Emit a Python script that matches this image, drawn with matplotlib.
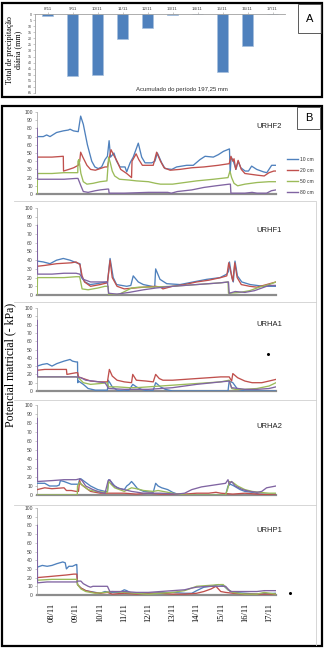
import matplotlib
matplotlib.use("Agg")
import matplotlib.pyplot as plt
from matplotlib.lines import Line2D
from matplotlib.patches import Rectangle

# ---------------- DATA ----------------
rain_days = ["8/11", "9/11", "10/11", "11/11", "12/11", "13/11", "14/11", "15/11", "16/11", "17/11"]
rain_mm = [1.5, 51.0, 50.5, 20.5, 11.5, 0.5, 0.0, 48.0, 26.0, 0.0]
rain_total_text = "Acumulado do período 197,25 mm"

date_labels = ["08/11", "09/11", "10/11", "11/11", "12/11", "13/11", "14/11", "15/11", "16/11", "17/11"]
depths = ["10 cm", "20 cm", "50 cm", "80 cm"]
panel_names = ["URHF2", "URHF1", "URHA1", "URHA2", "URHP1"]

# time in days after 08/11 00h (approx), value in -kPa
URHF2_10 = [(-0.61, 70), (-0.36, 70), (-0.22, 72), (-0.08, 70), (0.19, 75), (0.47, 77), (0.68, 78), (0.75, 79),
            (0.89, 77), (1.09, 76), (1.19, 95), (1.30, 85), (1.47, 60), (1.65, 40), (1.78, 33), (1.92, 31),
            (2.06, 33), (2.20, 42), (2.30, 46), (2.37, 65), (2.43, 45), (2.57, 50), (2.68, 40), (2.82, 33),
            (3.03, 33), (3.10, 27), (3.24, 38), (3.37, 45), (3.58, 62), (3.72, 45), (3.86, 38), (4.14, 38),
            (4.27, 40), (4.37, 50), (4.55, 38), (4.69, 31), (4.97, 30), (5.17, 33), (5.59, 35), (5.86, 35),
            (6.14, 42), (6.35, 46), (6.69, 45), (6.90, 48), (7.11, 52), (7.36, 55), (7.39, 25), (7.43, 45),
            (7.52, 40), (7.63, 30), (7.72, 40), (7.83, 32), (8.01, 28), (8.15, 28), (8.28, 34), (8.49, 30),
            (8.77, 27), (8.91, 26), (9.11, 35), (9.29, 35)]
URHF2_20 = [(-0.61, 45), (0.0, 45), (0.47, 46), (0.48, 28), (0.70, 30), (0.90, 32), (1.09, 35), (1.15, 40),
            (1.19, 51), (1.28, 45), (1.45, 35), (1.60, 30), (1.80, 29), (2.00, 31), (2.20, 33), (2.30, 33),
            (2.45, 54), (2.55, 48), (2.70, 40), (2.85, 30), (3.10, 25), (3.30, 20), (3.32, 40), (3.49, 49),
            (3.60, 42), (3.75, 35), (4.20, 35), (4.34, 51), (4.50, 40), (4.65, 32), (4.90, 29), (5.30, 30),
            (5.80, 32), (6.30, 33), (6.90, 35), (7.35, 37), (7.42, 46), (7.50, 40), (7.55, 43), (7.62, 30),
            (7.72, 41), (7.85, 30), (8.00, 25), (8.50, 23), (8.80, 22), (9.00, 26), (9.20, 28), (9.29, 28)]
URHF2_50 = [(-0.61, 0), (-0.60, 25), (0.0, 25), (0.5, 26), (1.07, 26), (1.08, 40), (1.12, 42), (1.20, 25),
            (1.30, 15), (1.45, 12), (1.70, 13), (2.00, 15), (2.28, 16), (2.35, 45), (2.42, 38), (2.50, 28),
            (2.60, 22), (2.80, 18), (3.20, 17), (3.50, 16), (4.00, 15), (4.30, 13), (4.50, 12), (5.00, 12),
            (5.50, 14), (6.00, 16), (6.70, 18), (7.30, 20), (7.38, 28), (7.45, 20), (7.55, 13), (7.70, 10),
            (8.00, 12), (8.50, 14), (9.00, 15), (9.29, 15)]
URHF2_80 = [(-0.61, 80), (-0.60, 18), (0.5, 18), (1.0, 19), (1.08, 19), (1.20, 10), (1.30, 3), (1.50, 2),
            (1.80, 4), (2.00, 5), (2.30, 6), (2.35, 6), (2.37, 1), (3.00, 1), (4.00, 2), (4.80, 2), (4.95, 1),
            (5.20, 3), (5.80, 5), (6.30, 8), (6.80, 10), (7.35, 12), (7.40, 12), (7.42, 1), (8.00, 1),
            (8.30, 2), (8.50, 1), (8.90, 1), (9.10, 4), (9.29, 5)]

URHF1_10 = [(-0.61, 39), (-0.36, 38), (-0.08, 36), (0.19, 40), (0.47, 42), (0.75, 40), (1.02, 37), (1.16, 36),
            (1.23, 20), (1.37, 15), (1.58, 12), (1.85, 13), (2.27, 15), (2.30, 14), (2.41, 42), (2.54, 20),
            (2.68, 12), (3.10, 10), (3.27, 11), (3.37, 22), (3.58, 15), (3.79, 12), (4.14, 10), (4.26, 9),
            (4.30, 30), (4.48, 18), (4.76, 13), (5.31, 12), (5.86, 15), (6.42, 18), (6.97, 20), (7.25, 24),
            (7.32, 27), (7.36, 38), (7.46, 20), (7.52, 15), (7.59, 39), (7.69, 22), (7.87, 15), (8.22, 12),
            (8.77, 10), (9.29, 10)]
URHF1_20 = [(-0.61, 33), (-0.30, 34), (0.20, 36), (0.80, 37), (1.00, 38), (1.10, 36), (1.16, 35), (1.25, 22),
            (1.35, 15), (1.60, 10), (2.00, 12), (2.30, 14), (2.41, 40), (2.50, 20), (2.70, 10), (3.00, 7),
            (3.40, 8), (3.80, 9), (4.30, 10), (4.50, 9), (4.60, 7), (5.00, 10), (5.50, 12), (6.00, 15),
            (6.50, 17), (7.00, 20), (7.25, 22), (7.33, 37), (7.45, 22), (7.50, 16), (7.58, 37), (7.68, 20),
            (7.85, 12), (8.20, 10), (8.50, 9), (8.90, 12), (9.29, 15)]
URHF1_50 = [(-0.61, 0), (-0.60, 20), (0.50, 20), (1.00, 21), (1.15, 21), (1.25, 7), (1.50, 6), (1.90, 8),
            (2.20, 10), (2.33, 10), (2.35, 0), (2.80, 1), (3.30, 8), (3.60, 9), (4.00, 9), (5.00, 10),
            (6.00, 12), (7.00, 14), (7.30, 15), (7.32, 2), (7.80, 3), (8.20, 5), (8.60, 9), (9.00, 12),
            (9.29, 15)]
URHF1_80 = [(-0.61, 80), (-0.60, 24), (0.00, 24), (0.50, 25), (1.00, 25), (1.15, 24), (1.30, 18), (1.60, 15),
            (2.00, 15), (2.30, 15), (2.35, 2), (2.70, 1), (3.20, 3), (3.80, 6), (4.30, 8), (5.00, 10),
            (6.00, 12), (7.00, 14), (7.30, 15), (7.32, 15), (7.35, 2), (7.60, 4), (8.00, 3), (8.40, 5),
            (8.80, 9), (9.00, 11), (9.29, 11)]

URHA1_10 = [(-0.61, 30), (-0.40, 32), (-0.20, 33), (0.00, 30), (0.20, 33), (0.50, 36), (0.75, 38), (0.85, 36),
            (1.00, 35), (1.06, 35), (1.07, 10), (1.10, 12), (1.30, 8), (1.50, 3), (1.80, 1), (2.30, 1),
            (2.33, 13), (2.40, 10), (2.50, 5), (2.70, 1), (3.00, 0), (3.20, 1), (3.35, 8), (3.50, 5),
            (3.70, 2), (4.00, 0), (4.20, 1), (4.30, 10), (4.50, 5), (4.70, 2), (5.00, 0), (7.30, 0),
            (7.35, 12), (7.50, 10), (7.70, 2), (8.00, 0), (9.29, 0)]
URHA1_20 = [(-0.61, 25), (-0.30, 26), (0.30, 26), (0.60, 26), (0.62, 20), (0.80, 21), (1.00, 22), (1.07, 22),
            (1.10, 17), (1.30, 15), (1.60, 12), (2.00, 11), (2.30, 11), (2.38, 26), (2.50, 18), (2.70, 13),
            (3.00, 11), (3.30, 10), (3.35, 20), (3.50, 13), (3.90, 12), (4.20, 11), (4.30, 20), (4.45, 15),
            (4.60, 13), (5.00, 13), (5.50, 14), (6.00, 15), (6.50, 16), (7.00, 17), (7.35, 17), (7.45, 12),
            (7.50, 21), (7.70, 16), (8.00, 12), (8.30, 10), (8.70, 10), (9.00, 12), (9.29, 14)]
URHA1_50 = [(-0.61, 17), (1.00, 17), (1.10, 16), (1.30, 10), (1.60, 8), (2.00, 9), (2.30, 10), (2.35, 5),
            (2.70, 5), (3.20, 4), (3.50, 4), (4.00, 5), (5.00, 7), (6.00, 9), (7.00, 11), (7.35, 13),
            (7.45, 3), (7.60, 2), (8.00, 2), (8.50, 3), (9.00, 6), (9.29, 10)]
URHA1_80 = [(-0.61, 85), (-0.60, 17), (1.00, 17), (1.20, 16), (1.40, 13), (1.70, 12), (2.20, 10), (2.35, 3),
            (3.00, 2), (4.00, 2), (5.00, 4), (6.00, 8), (7.00, 11), (7.35, 12), (7.45, 4), (8.00, 2),
            (8.50, 2), (9.00, 3), (9.29, 5)]
URHA1_dot = [(8.95, 45)]

URHA2_10 = [(-0.61, 13), (-0.30, 13), (-0.10, 10), (0.20, 10), (0.30, 11), (0.35, 16), (0.50, 15), (0.80, 12),
            (1.10, 12), (1.15, 18), (1.20, 18), (1.40, 14), (1.60, 10), (1.90, 6), (2.20, 4), (2.30, 4),
            (2.35, 17), (2.45, 15), (2.60, 10), (2.80, 7), (3.00, 6), (3.10, 10), (3.20, 12), (3.30, 15),
            (3.40, 12), (3.55, 7), (3.80, 4), (4.20, 3), (4.30, 13), (4.40, 10), (4.55, 8), (4.80, 6),
            (5.00, 3), (5.20, 1), (5.50, 0), (7.20, 0), (7.30, 10), (7.40, 12), (7.55, 10), (7.80, 6),
            (8.00, 4), (8.30, 3), (8.60, 1), (9.29, 1)]
URHA2_20 = [(-0.61, 6), (-0.30, 8), (0.00, 7), (0.50, 8), (0.60, 5), (0.80, 5), (1.00, 4), (1.10, 4),
            (1.15, 16), (1.20, 12), (1.40, 8), (1.60, 4), (2.00, 2), (2.50, 2), (3.00, 2), (3.50, 1),
            (4.00, 2), (4.50, 1), (5.00, 1), (5.50, 1), (6.00, 2), (6.50, 2), (6.80, 3), (7.00, 2),
            (7.50, 1), (8.00, 2), (8.50, 1), (9.29, 0)]
URHA2_50 = [(-0.61, 0), (1.05, 0), (1.06, 10), (1.15, 14), (1.30, 10), (1.50, 6), (1.80, 4), (2.30, 3),
            (2.35, 15), (2.45, 12), (2.60, 8), (2.90, 5), (3.00, 4), (3.30, 8), (3.50, 7), (3.80, 5),
            (4.20, 4), (4.40, 5), (4.60, 4), (4.80, 3), (5.20, 1), (5.50, 0), (7.20, 0), (7.30, 8),
            (7.35, 15), (7.50, 14), (7.70, 10), (8.00, 6), (8.30, 4), (8.60, 3), (9.00, 2), (9.29, 2)]
URHA2_80 = [(-0.61, 85), (-0.60, 15), (0.00, 16), (0.50, 17), (1.00, 17), (1.15, 18), (1.25, 16), (1.40, 10),
            (1.70, 6), (2.00, 3), (2.20, 2), (2.33, 16), (2.40, 17), (2.50, 12), (2.70, 8), (3.00, 6),
            (3.30, 4), (3.80, 2), (4.50, 2), (5.20, 1), (5.50, 2), (5.80, 6), (6.20, 9), (6.70, 11),
            (7.20, 13), (7.30, 17), (7.35, 12), (7.45, 15), (7.60, 10), (7.90, 6), (8.20, 4), (8.50, 3),
            (8.70, 4), (8.90, 8), (9.29, 10)]

URHP1_10 = [(-0.61, 32), (-0.40, 34), (-0.20, 33), (0.00, 34), (0.20, 36), (0.45, 38), (0.55, 37), (0.60, 30),
            (0.70, 33), (0.85, 33), (1.00, 35), (1.03, 35), (1.06, 12), (1.20, 8), (1.40, 5), (1.60, 4),
            (1.80, 3), (2.00, 2), (2.20, 4), (2.40, 3), (2.80, 3), (3.00, 6), (3.10, 5), (3.30, 2),
            (4.00, 2), (5.00, 3), (5.50, 2), (5.80, 2), (6.00, 5), (6.30, 9), (6.60, 10), (6.90, 12),
            (7.10, 11), (7.30, 6), (7.50, 3), (8.00, 2), (8.50, 1), (9.29, 2)]
URHP1_20 = [(-0.61, 20), (-0.20, 21), (0.20, 22), (0.60, 23), (0.90, 24), (1.03, 24), (1.06, 12), (1.20, 8),
            (1.40, 5), (1.70, 3), (2.00, 2), (2.30, 3), (2.50, 1), (3.00, 2), (3.50, 1), (4.00, 2),
            (4.50, 2), (5.00, 1), (5.50, 1), (6.00, 2), (6.30, 4), (6.60, 7), (6.80, 10), (6.90, 7),
            (7.00, 4), (7.20, 3), (7.50, 2), (8.00, 1), (8.50, 1), (9.29, 1)]
URHP1_50 = [(-0.61, 17), (0.00, 18), (1.03, 18), (1.06, 12), (1.20, 7), (1.40, 4), (1.60, 3), (1.80, 2),
            (2.20, 3), (2.50, 4), (3.00, 3), (3.50, 2), (4.00, 1), (4.50, 2), (5.00, 3), (5.50, 5),
            (5.80, 8), (6.00, 10), (6.50, 11), (7.00, 12), (7.10, 12), (7.30, 6), (7.50, 3), (8.00, 1),
            (8.50, 1), (8.80, 3), (9.29, 1)]
URHP1_80 = [(-0.61, 80), (-0.60, 14), (-0.20, 15), (0.50, 15), (1.03, 15), (1.06, 16), (1.20, 16), (1.30, 13),
            (1.50, 10), (1.60, 9), (1.70, 10), (2.00, 10), (2.30, 10), (2.40, 4), (3.00, 4), (3.50, 3),
            (4.00, 3), (4.50, 4), (5.00, 5), (5.50, 6), (5.80, 8), (6.00, 9), (6.50, 10), (7.00, 10),
            (7.20, 10), (7.40, 4), (8.00, 4), (8.50, 4), (8.80, 5), (9.29, 5)]
URHP1_dot = [(9.85, 2)]

panels = [
    ("URHF2", [URHF2_10, URHF2_20, URHF2_50, URHF2_80], []),
    ("URHF1", [URHF1_10, URHF1_20, URHF1_50, URHF1_80], []),
    ("URHA1", [URHA1_10, URHA1_20, URHA1_50, URHA1_80], URHA1_dot),
    ("URHA2", [URHA2_10, URHA2_20, URHA2_50, URHA2_80], []),
    ("URHP1", [URHP1_10, URHP1_20, URHP1_50, URHP1_80], URHP1_dot),
]

# ---------------- STYLE ----------------
colors = ["#4F81BD", "#C0504D", "#9BBB59", "#8064A2"]
W, H = 325, 650
SERIF = ["Liberation Serif", "DejaVu Serif"]
SANS = ["Liberation Sans", "DejaVu Sans"]
plt.rcParams["font.family"] = SANS

fig = plt.figure(figsize=(W / 100, H / 100), dpi=100)


def fx(x):
    return x / W


def fy(y):
    return 1 - y / H


def add_ax(l, t, r, b):
    return fig.add_axes([l / W, 1 - b / H, (r - l) / W, (b - t) / H])


# Outer frames (black)
for (l, t, r, b) in [(2, 3, 322, 97), (2, 106, 322, 646)]:
    fig.patches.append(Rectangle((fx(l), fy(b)), fx(r - l), (b - t) / H, fill=False,
                                 edgecolor="black", linewidth=1.6, transform=fig.transFigure))
# letter boxes
for (l, t, r, b, s) in [(298, 4, 321, 33, "A"), (297, 107, 320, 129, "B")]:
    fig.patches.append(Rectangle((fx(l), fy(b)), fx(r - l), (b - t) / H, fill=False,
                                 edgecolor="#404040", linewidth=0.6, transform=fig.transFigure))
    fig.text(fx((l + r) / 2), fy((t + b) / 2), s, ha="center", va="center", fontsize=8, color="black")

# ---------------- PANEL A ----------------
axA = add_ax(35, 14, 285, 93)
xs = list(range(len(rain_days)))
axA.bar(xs, rain_mm, width=0.42, color="#4F81BD", edgecolor="#A7C0DE", linewidth=0.5)
axA.set_xlim(-0.5, len(rain_days) - 0.5)
axA.set_ylim(65, 0)
axA.set_yticks(range(0, 66, 5))
axA.set_yticklabels([str(v) for v in range(0, 66, 5)], fontsize=2.6, color="#404040")
axA.xaxis.tick_top()
axA.set_xticks(xs)
axA.set_xticklabels(rain_days, fontsize=3.2, color="#404040")
axA.tick_params(axis="both", length=1.5, width=0.4, color="#A0A0A0", pad=1)
for s in ["bottom", "right"]:
    axA.spines[s].set_visible(False)
for s in ["top", "left"]:
    axA.spines[s].set_color("#A0A0A0")
    axA.spines[s].set_linewidth(0.6)
axA.patch.set_alpha(0)
fig.text(fx(182), fy(89), rain_total_text, ha="center", va="center", fontsize=4.3, color="#303030")
fig.text(fx(14), fy(50), "Total de precipitação\ndiária (mm)", rotation=90, ha="center", va="center",
         fontsize=5.9, family=SERIF, linespacing=1.05)

# ---------------- PANEL B ----------------
panel_px = [(112, 194), (208, 295), (308, 391), (405, 495), (508, 595)]
label_px = [126, 230, 324, 427, 530]
XL, XR = 37, 276

# light gray chart-area separators
for y in [201, 302, 400, 505]:
    fig.add_artist(Line2D([fx(14), fx(316)], [fy(y), fy(y)], color="#D0D0D0", linewidth=0.6,
                          transform=fig.transFigure))
for (t, b) in [(202, 302), (302, 400), (400, 505), (505, 645)]:
    fig.add_artist(Line2D([fx(316), fx(316)], [fy(t), fy(b)], color="#D0D0D0", linewidth=0.6,
                          transform=fig.transFigure))

for i, ((name, series, dots), (top, bot)) in enumerate(zip(panels, panel_px)):
    ax = add_ax(XL, top, XR, bot)
    for ser, c, lab in zip(series, colors, depths):
        t = [p[0] for p in ser]
        v = [p[1] for p in ser]
        ax.plot(t, v, color=c, linewidth=0.95, label=lab, solid_joinstyle="round", zorder=3)
    if dots:
        ax.plot([d[0] for d in dots], [d[1] for d in dots], "o", color="black", markersize=1.2,
                clip_on=False, zorder=4)
    ax.set_xlim(-0.62, 9.29)
    ax.set_ylim(0, 100)
    ax.set_yticks(range(0, 101, 10))
    ax.set_yticklabels([str(v) for v in range(0, 101, 10)], fontsize=3.6, color="#404040")
    ax.tick_params(axis="y", length=1.5, width=0.4, color="#A0A0A0", pad=1.5)
    for s in ["top", "right"]:
        ax.spines[s].set_visible(False)
    ax.spines["left"].set_color("#A0A0A0")
    ax.spines["left"].set_linewidth(0.5)
    ax.spines["bottom"].set_color("#8C8C8C")
    ax.spines["bottom"].set_linewidth(1.6)
    ax.spines["bottom"].set_zorder(2)
    ax.patch.set_alpha(0)
    ax.set_xticks(range(len(date_labels)))
    if i == len(panels) - 1:
        ax.set_xticklabels(date_labels, rotation=90, fontsize=6, family=SERIF)
        ax.tick_params(axis="x", length=0, pad=6)
    else:
        ax.set_xticklabels([])
        ax.tick_params(axis="x", length=0)
    fig.text(fx(256), fy(label_px[i]), name, ha="left", va="center", fontsize=5.5, color="#202020")
    if i == 0:
        leg_y = [159, 170, 181, 192]
        for lab, c, yy in zip(depths, colors, leg_y):
            fig.add_artist(Line2D([fx(287), fx(298)], [fy(yy), fy(yy)], color=c, linewidth=1.0,
                                  transform=fig.transFigure))
            fig.text(fx(300), fy(yy), lab, ha="left", va="center", fontsize=3.6, color="#303030")

fig.text(fx(10), fy(365), "Potencial matricial (- kPa)", rotation=90, ha="center", va="center",
         fontsize=8.5, family=SERIF)

fig.savefig("out.png", dpi=100)
